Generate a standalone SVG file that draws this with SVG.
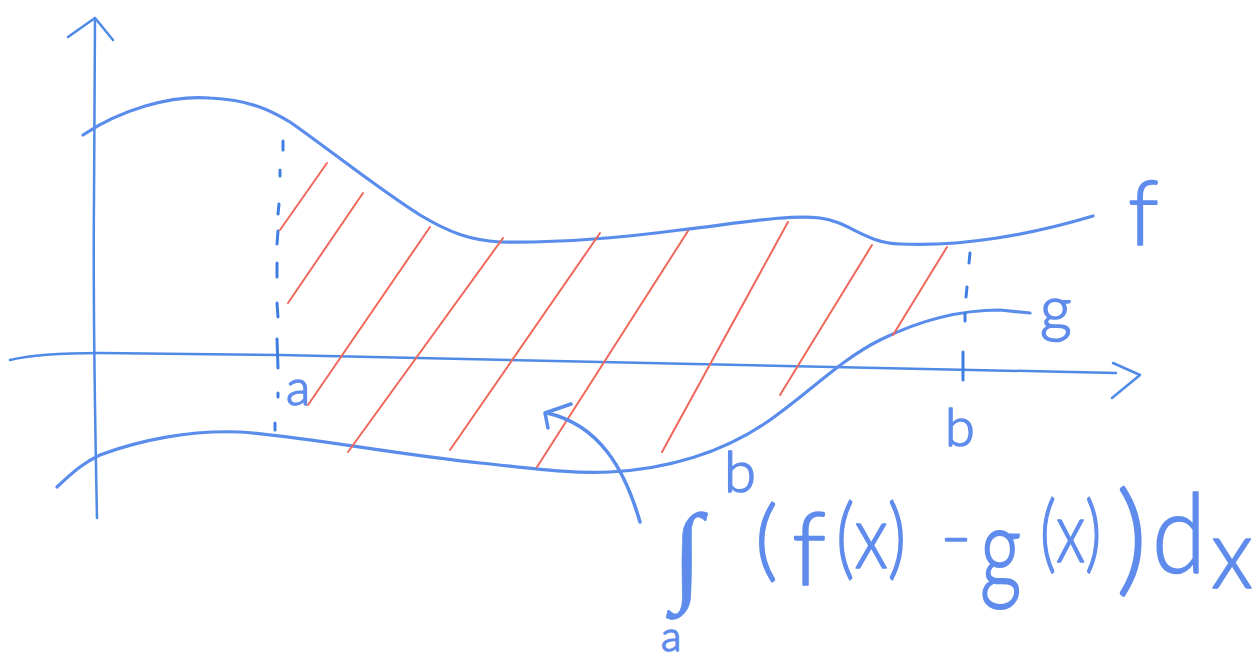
<svg xmlns="http://www.w3.org/2000/svg" width="1256" height="662" viewBox="0 0 1256 662">
<style>
.ax{fill:none;stroke:#4f8ae6;stroke-width:2.5;stroke-linecap:round;stroke-linejoin:round}
.cv{fill:none;stroke:#5a8ceb;stroke-width:3.2;stroke-linecap:round;stroke-linejoin:round}
.ds{fill:none;stroke:#3f7fe0;stroke-width:3;stroke-linecap:round}
.ht{fill:none;stroke:#f0685c;stroke-width:2;stroke-linecap:round}
.ar{fill:none;stroke:#5a8ceb;stroke-width:3.5;stroke-linecap:round;stroke-linejoin:round}
.t{fill:#5f8cec;stroke:#5f8cec;stroke-width:1.6;stroke-linejoin:round;font-family:Lato,"Open Sans","Liberation Sans",sans-serif;font-weight:300}
.i{fill:#5f8cec;stroke:#5f8cec;stroke-width:0.6;font-family:"Liberation Serif",serif;font-weight:normal}
</style>
<rect width="1256" height="662" fill="#ffffff"/>
<g id="axes">
<path class="ax" d="M97,518 C95,420 93,300 94,200 C94,120 95,60 95,18"/>
<path class="ax" d="M68,37 L95,18 L113,40" stroke-width="3"/>
<path class="ax" d="M10,360 C30,355 60,353 100,353 L280,355 C500,358 800,364 1116,373"/>
<path class="ax" d="M1113,363 L1140,375 L1112,398" stroke-width="3"/>
</g>
<g id="curve-f">
<path class="cv" d="M83,135 C120,110 170,95 210,98 C250,100 270,110 290,122 C330,150 380,190 420,215 C450,233 470,240 500,242 C560,243 620,238 680,230 C740,223 790,214 820,218 C850,222 865,243 900,244 C960,247 1030,235 1093,216"/>
</g>
<g id="curve-g">
<path class="cv" d="M57,487 C75,470 85,462 100,455 C140,440 190,430 240,432 C300,436 400,455 480,463 C530,468 570,474 610,472 C680,468 730,448 770,420 C810,392 840,360 880,340 C920,320 960,310 1000,310 L1030,313"/>
</g>
<g id="bound-a">
<path class="ds" d="M283,141 L283,150 M280,170 L280,176 M279,204 L278,214 M278,231 L277,244 M277,263 L277,277 M277,303 L278,317 M278,393 L278,397 M275,423 L275,430"/>
<path class="ds" d="M277,339 L278,368" stroke-width="4"/>
</g>
<g id="bound-b">
<path class="ds" d="M970,253 L969,263 M967,287 L966,297 M965,313 L965,321"/>
<path class="ds" d="M963,352 L963,380" stroke-width="3.5"/>
</g>
<g id="hatch">
<path class="ht" d="M280,230 L327,163 M288,303 L363,193 M308,405 L430,227 M348,452 L503,238 M450,450 L600,233 M537,467 L688,231 M662,452 L788,222 M780,395 L872,245 M893,335 L947,247"/>
</g>
<g id="connectors">
<path class="ar" d="M640,522 C625,470 600,425 547,413"/>
<path class="ar" d="M571,404 L545,413 L548,428"/>
</g>
<g id="labels">
<text class="t" x="1128" y="245" font-size="90">f</text>
<text class="t" x="1040" y="330" font-size="62">g</text>
<text class="t" x="286" y="405" font-size="50">a</text>
<text class="t" x="945" y="446" font-size="54">b</text>
</g>
<g id="integral">
<text class="i" x="672" y="590" font-size="110">∫</text>
<text class="t" x="724" y="492" font-size="58">b</text>
<text class="t" x="661" y="651" font-size="42">a</text>
<text class="t"><tspan x="755" y="570" font-size="88">(</tspan><tspan x="792" y="585" font-size="100">f</tspan></text>
<text class="t" transform="translate(836,568) scale(0.81,1)" font-size="88">(x)</text>
<text class="t" x="940" y="558" font-size="62" textLength="32" lengthAdjust="spacingAndGlyphs">-</text>
<text class="t" transform="translate(980,588) scale(0.9,1.25)" font-size="90">g</text>
<text class="t" transform="translate(1040,562) scale(0.74,1)" font-size="84">(x)</text>
<text class="t"><tspan x="1116" y="580" font-size="122">)</tspan><tspan x="1152" y="573" font-size="110" textLength="54" lengthAdjust="spacingAndGlyphs">d</tspan><tspan x="1211" y="588" font-size="98" textLength="42" lengthAdjust="spacingAndGlyphs">x</tspan></text>
</g>
</svg>
